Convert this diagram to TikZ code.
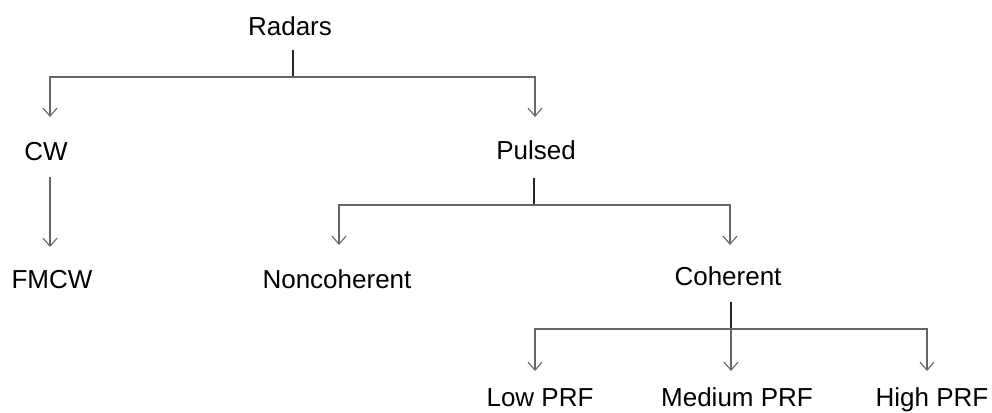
\documentclass[tikz,border=0pt]{standalone}
\usepackage{fontspec}
\setmainfont{Liberation Sans}
\usetikzlibrary{arrows.meta}
\begin{document}
\begin{tikzpicture}[x=1pt,y=-1pt,
  lbl/.style={font=\fontsize{26}{31}\selectfont, inner sep=0pt, anchor=base},
  stem/.style={draw=black!85, line width=1.1pt},
  conn/.style={draw=black!60, line width=1.1pt},
  arr/.style={conn, -{Straight Barb[length=8pt,width=14pt,line width=1.1pt]}}]
\useasboundingbox (0,0) rectangle (992,412);
% nodes (placed by baseline)
\node[lbl] (radars) at (290,36) {Radars};
\node[lbl] (cw) at (46,160) {CW};
\node[lbl] (pulsed) at (536,159) {Pulsed};
\node[lbl] (fmcw) at (52,288) {FMCW};
\node[lbl] (nonc) at (337,288) {Noncoherent};
\node[lbl] (coh) at (728,285) {Coherent};
\node[lbl] (low) at (540,406) {Low PRF};
\node[lbl] (med) at (737,406) {Medium PRF};
\node[lbl] (high) at (932,406) {High PRF};
% stem starts, junctions and arrow tips
\coordinate (s-radars) at (293,50);
\coordinate (j1) at (293,77);
\coordinate (t-cw) at (50,117);
\coordinate (t-pulsed) at (535,117);
\coordinate (s-cw) at (50,177);
\coordinate (t-fmcw) at (50,247);
\coordinate (s-pulsed) at (534,178);
\coordinate (j2) at (534,205);
\coordinate (t-nonc) at (339,245);
\coordinate (t-coh) at (730,245);
\coordinate (s-coh) at (731,302);
\coordinate (j3) at (731,329);
\coordinate (t-low) at (535,371);
\coordinate (t-med) at (731,371);
\coordinate (t-high) at (927,371);
% connectors
\draw[stem] (s-radars) -- (j1);
\draw[arr] (j1) -| (t-cw);
\draw[arr] (j1) -| (t-pulsed);
\draw[arr] (s-cw) -- (t-fmcw);
\draw[stem] (s-pulsed) -- (j2);
\draw[arr] (j2) -| (t-nonc);
\draw[arr] (j2) -| (t-coh);
\draw[stem] (s-coh) -- (j3);
\draw[arr] (j3) -| (t-low);
\draw[arr] (j3) -- (t-med);
\draw[arr] (j3) -| (t-high);
\end{tikzpicture}
\end{document}
